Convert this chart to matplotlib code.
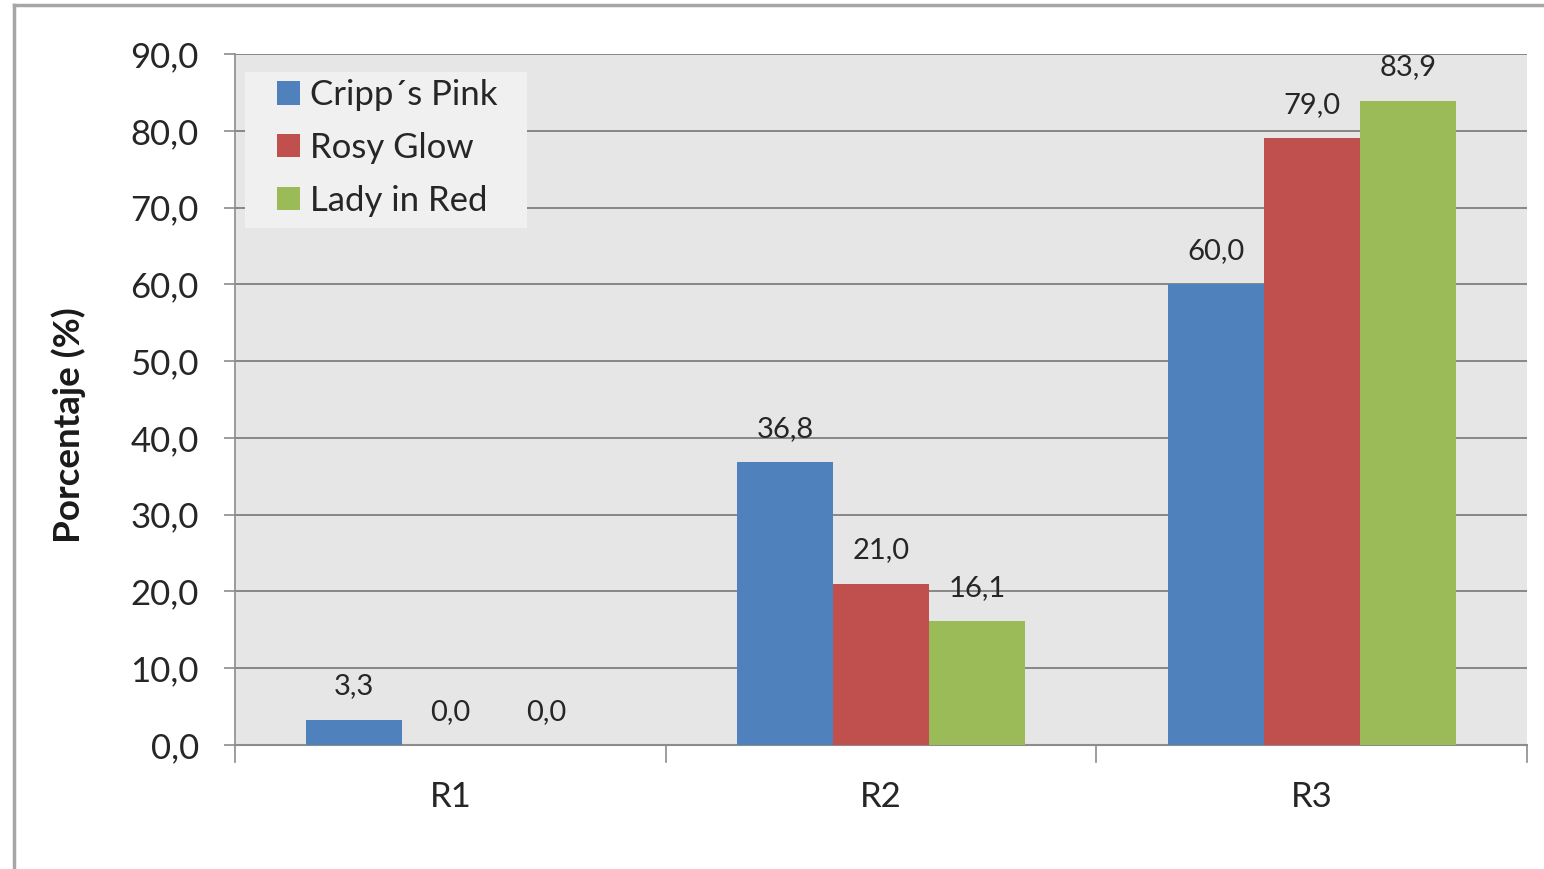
import matplotlib
matplotlib.use("Agg")
import matplotlib.pyplot as plt
import numpy as np
from matplotlib.patches import Rectangle
from matplotlib.lines import Line2D

categories = ["R1", "R2", "R3"]
series_names = ["Cripp\u00b4s Pink", "Rosy Glow", "Lady in Red"]
cripps_pink = [3.3, 36.8, 60.0]
rosy_glow = [0.0, 21.0, 79.0]
lady_in_red = [0.0, 16.1, 83.9]
y_ticks = [0, 10, 20, 30, 40, 50, 60, 70, 80, 90]

colors = ["#4f81bd", "#c0504d", "#9bbb59"]
plt.rcParams['font.family'] = ['Lato', 'DejaVu Sans']

fig = plt.figure(figsize=(15.44, 8.69), dpi=100)
ax = fig.add_axes([235/1544, 1-745/869, (1527-235)/1544, (745-54)/869])
ax.set_facecolor("#e6e6e6")

x = np.arange(len(categories))
w = 0.223
series = [cripps_pink, rosy_glow, lady_in_red]
for i, (vals, name, c) in enumerate(zip(series, series_names, colors)):
    pos = x + (i - 1) * w
    ax.bar(pos, vals, width=w, color=c, label=name, zorder=3)
    for xi, v in zip(pos, vals):
        ax.annotate(f"{v:.1f}".replace(".", ","), (xi, v), xytext=(0, 24),
                    textcoords="offset points", ha="center", va="center",
                    fontsize=21, color="#262626")

ax.set_xlim(-0.5, 2.5)
ax.set_ylim(0, 90)
ax.set_yticks(y_ticks)
ax.set_yticklabels([f"{t:.1f}".replace(".", ",") for t in y_ticks], fontsize=25, color="#262626")
ax.yaxis.grid(True, color="#7f7f7f", linewidth=1.3, zorder=0)
ax.set_axisbelow(True)
ax.tick_params(axis="y", length=8, width=1.2, color="#8c8c8c", pad=18)

ax.set_xticks(x)
ax.set_xticklabels(categories, fontsize=25, color="#262626")
ax.tick_params(axis="x", length=0, pad=26)
for b in [-0.5, 0.5, 1.5, 2.5]:
    ax.add_line(Line2D([b, b], [0, -2.2], color="#8c8c8c", lw=1.2, clip_on=False))

for s in ["top", "right"]:
    ax.spines[s].set_visible(False)
ax.spines["left"].set_color("#8c8c8c")
ax.spines["left"].set_linewidth(1.2)
ax.spines["bottom"].set_color("#8c8c8c")
ax.spines["bottom"].set_linewidth(1.5)

ax.set_ylabel("Porcentaje (%)", fontsize=26.5, fontweight="bold", color="#1a1a1a")
ax.yaxis.set_label_coords((86-235)/1292, (745-425)/691)

# legend background box
ax.add_patch(Rectangle(((245-235)/1292, (745-228)/691), (527-245)/1292, (228-72)/691,
                       transform=ax.transAxes, facecolor="#f0f0f0", edgecolor="none", zorder=4))
leg = ax.legend(loc="upper left", bbox_to_anchor=((277-235)/1292, (745-79)/691), fontsize=25,
                frameon=False, handlelength=0.66, handleheight=0.66, borderaxespad=0,
                handletextpad=0.3, labelspacing=0.6, borderpad=0)
leg.set_zorder(5)
for t in leg.get_texts():
    t.set_color("#262626")

# outer chart border (left and top)
fig.add_artist(Line2D([14/1544, 14/1544], [0, 1-5/869], transform=fig.transFigure, color="#a6a6a6", lw=2.5))
fig.add_artist(Line2D([14/1544, 1], [1-5/869, 1-5/869], transform=fig.transFigure, color="#a6a6a6", lw=2.5))

fig.savefig("out.png", dpi=100)
